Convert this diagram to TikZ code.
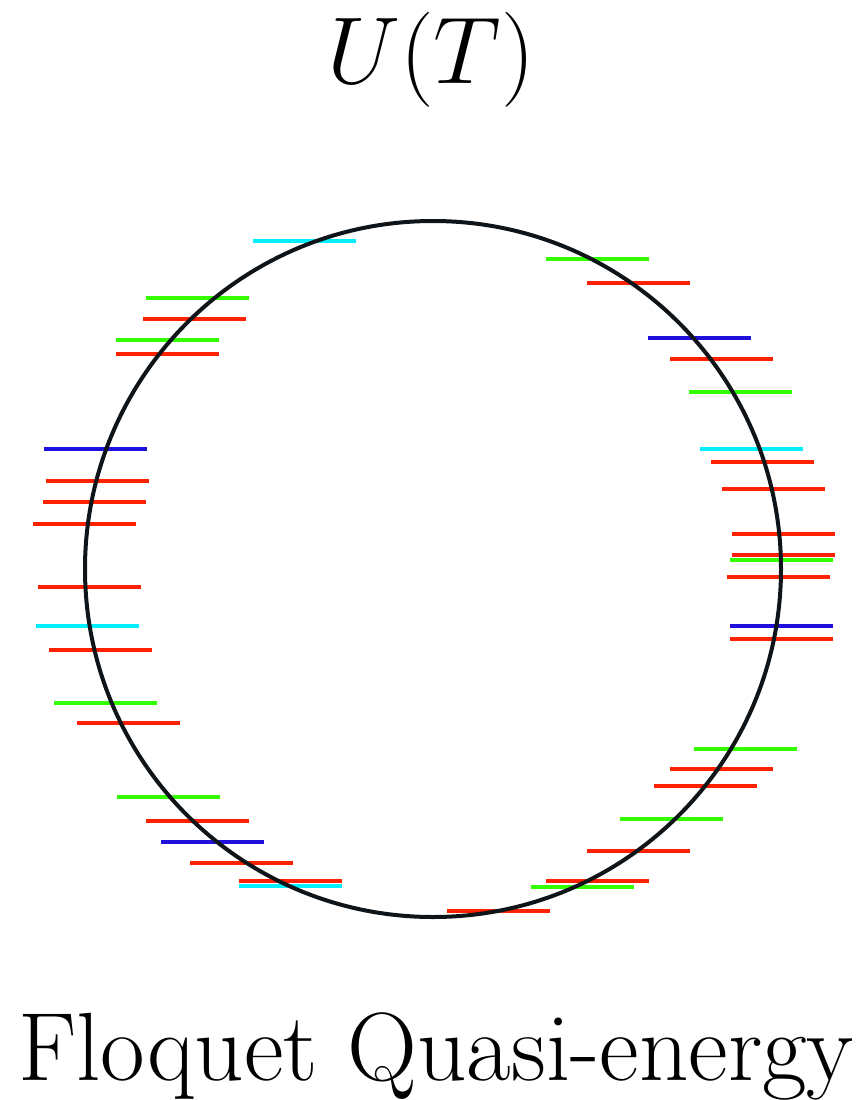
\RequirePackage{fix-cm}
\documentclass[tikz,border=0pt]{standalone}
\definecolor{lvred}{RGB}{255,32,0}
\definecolor{lvgreen}{RGB}{51,255,0}
\definecolor{lvblue}{RGB}{32,16,220}
\definecolor{lvcyan}{RGB}{0,240,255}
\definecolor{ring}{RGB}{15,20,25}
\tikzset{
  level/.style={line width=4pt, draw=#1},
  unitcircle/.style={line width=4pt, draw=ring}
}
\begin{document}
\begin{tikzpicture}[x=1pt,y=-1pt]
\useasboundingbox (0,0) rectangle (859,1100);
\node[anchor=base, inner sep=0pt] (title) at (431,83) {\fontsize{95}{100}\selectfont $U(T)$};
% quasi-energy levels: left end / height / colour
\foreach \lx/\ly/\lc in {253/241/lvcyan, 146/298/lvgreen, 143/319/lvred, 116/340/lvgreen,
    116/354/lvred, 44/449/lvblue, 46/481/lvred, 43/502/lvred, 33/524/lvred,
    546/259/lvgreen, 587/283/lvred, 648/338/lvblue, 670/359/lvred, 689/392/lvgreen,
    700/449/lvcyan, 711/462/lvred, 722/489/lvred, 732/534/lvred, 732/555/lvred,
    730/560/lvgreen, 727/577/lvred, 38/587/lvred, 36/626/lvcyan, 49/650/lvred,
    54/703/lvgreen, 77/723/lvred, 117/797/lvgreen, 146/821/lvred, 161/842/lvblue,
    190/863/lvred, 239/886/lvcyan, 239/881/lvred, 730/626/lvblue, 730/639/lvred,
    694/749/lvgreen, 670/769/lvred, 654/786/lvred, 620/819/lvgreen, 587/851/lvred,
    531/887/lvgreen, 546/881/lvred, 447/911/lvred}
  \draw[level=\lc] (\lx,\ly) -- ++(103,0);
\draw[unitcircle] (433,569) circle (348);
\node[anchor=base, inner sep=0pt] (caption) at (436,1080) {\fontsize{97}{100}\selectfont Floquet Quasi-energy};
\end{tikzpicture}
\end{document}
